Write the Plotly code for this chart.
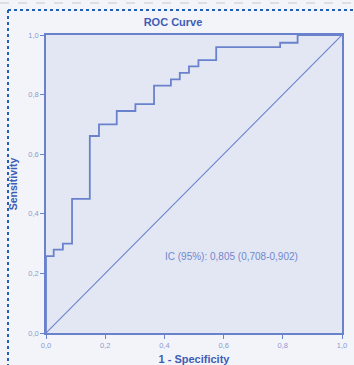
import plotly.graph_objects as go

# ROC curve vertices (1 - specificity, sensitivity), step shape
fpr = [0.0, 0.0, 0.026, 0.057, 0.088, 0.148, 0.179, 0.239, 0.302, 0.365,
       0.422, 0.452, 0.483, 0.515, 0.575, 0.791, 0.85, 1.0]
tpr = [0.0, 0.258, 0.28, 0.30, 0.45, 0.661, 0.70, 0.745, 0.768, 0.83,
       0.851, 0.873, 0.895, 0.916, 0.959, 0.974, 1.0, 1.0]
ref_x = [0.0, 1.0]
ref_y = [0.0, 1.0]
tick_vals = [0.0, 0.2, 0.4, 0.6, 0.8, 1.0]
title_text = "ROC Curve"
x_title = "1 - Specificity"
y_title = "Sensitivity"
ci_text = "IC (95%): 0,805 (0,708-0,902)"

line_col = "#6a82cc"
text_col = "#3d5db6"
tick_col = "#8a9bd2"

fig = go.Figure()
fig.add_trace(go.Scatter(x=ref_x, y=ref_y, mode="lines",
                         line=dict(color=line_col, width=1.1), hoverinfo="skip"))
fig.add_trace(go.Scatter(x=fpr, y=tpr, mode="lines", line_shape="hv",
                         line=dict(color=line_col, width=1.8)))

fig.add_annotation(x=0.625, y=0.258, xref="x", yref="y", text=ci_text,
                   showarrow=False, font=dict(size=10, color="#7187cc",
                                              family="Liberation Sans, Arial"))

axis_common = dict(range=[0, 1], tickvals=tick_vals, tickformat=".1f",
                   showgrid=False, zeroline=False, showline=True, mirror=True,
                   linecolor=line_col, linewidth=1.6, ticks="outside",
                   ticklen=4, tickcolor=line_col, tickwidth=1.2, automargin=False,
                   tickfont=dict(size=7.5, color=tick_col, family="Liberation Sans, Arial"))

fig.update_layout(
    width=354, height=365,
    margin=dict(l=46, r=12, t=35, b=32),
    separators=",.",
    paper_bgcolor="#f3f4f9",
    plot_bgcolor="#e3e7f4",
    showlegend=False,
    title=dict(text="<b>" + title_text + "</b>", x=173 / 354, xanchor="center",
               xref="container", y=1 - 22 / 365, yanchor="middle",
               font=dict(size=11, color=text_col, family="Liberation Sans, Arial")),
    xaxis=dict(axis_common,
               title=dict(text="<b>" + x_title + "</b>", standoff=9,
                          font=dict(size=11, color=text_col,
                                    family="Liberation Sans, Arial"))),
    yaxis=dict(axis_common,
               title=dict(text="<b>" + y_title + "</b>", standoff=9,
                          font=dict(size=10.5, color=text_col,
                                    family="Liberation Sans, Arial"))),
    shapes=[
        dict(type="line", xref="paper", yref="paper",
             x0=-46 / 296, x1=308 / 296, y0=1 + 32 / 298, y1=1 + 32 / 298,
             line=dict(color="#c4c7cf", width=1, dash="dash")),
        dict(type="line", xref="paper", yref="paper",
             x0=-38 / 296, x1=308 / 296, y0=1 + 25 / 298, y1=1 + 25 / 298,
             line=dict(color="#1f5fb8", width=2, dash="dot")),
        dict(type="line", xref="paper", yref="paper",
             x0=-38 / 296, x1=-38 / 296, y0=1 + 25 / 298, y1=-32 / 298,
             line=dict(color="#1f5fb8", width=2, dash="dot")),
    ],
)

fig.write_html("out.html", config={"displayModeBar": False},
               post_script="document.body.style.margin='0';document.body.style.padding='0';")
